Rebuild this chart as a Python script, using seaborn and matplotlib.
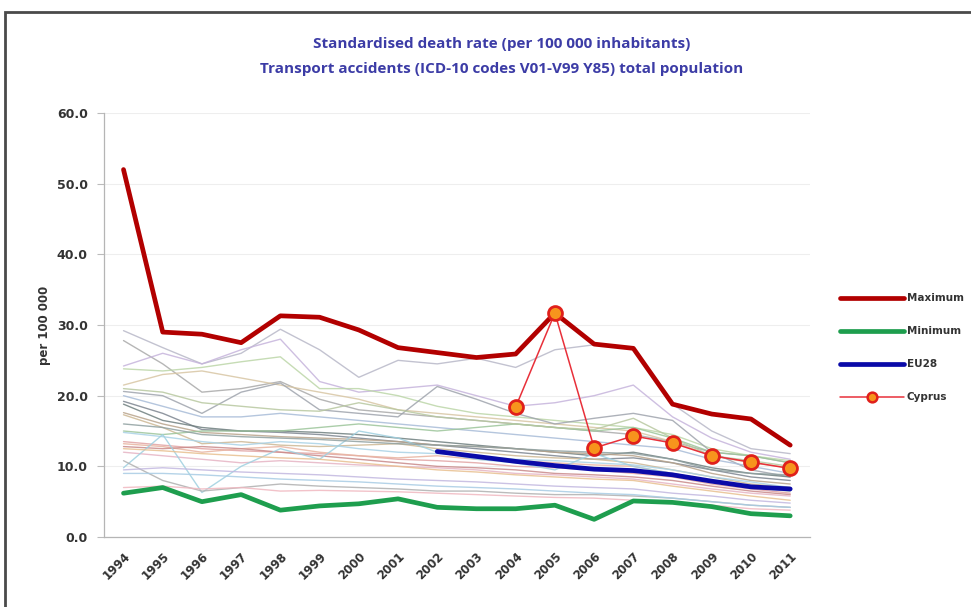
"""Standardised death rate from transport accidents, EU countries 1994-2011."""

import matplotlib
matplotlib.use("Agg")
import matplotlib.pyplot as plt
from matplotlib.lines import Line2D
from matplotlib.patches import Rectangle
import numpy as np
import pandas as pd
import seaborn as sns

years = [str(y) for y in range(1994, 2012)]

maximum = [52.0, 29.0, 28.7, 27.5, 31.3, 31.1, 29.3, 26.8, 26.1, 25.4,
           25.9, 31.7, 27.3, 26.7, 18.8, 17.4, 16.7, 13.0]
minimum = [6.2, 7.0, 5.0, 6.0, 3.8, 4.4, 4.7, 5.4, 4.2, 4.0,
           4.0, 4.5, 2.5, 5.1, 4.9, 4.3, 3.3, 3.0]
eu28 = [None] * 8 + [12.1, 11.4, 10.7, 10.1, 9.6, 9.4, 8.8, 7.9, 7.1, 6.8]
cyprus = [None] * 10 + [18.4, 31.7, 12.6, 14.3, 13.3, 11.5, 10.6, 9.7]

# thin background lines: the individual member states
other_rates = [
    [29.2, 26.8, 24.5, 26.0, 29.4, 26.5, 22.6, 25.0, 24.5, 25.3, 24.0, 26.5, 27.2, 26.8, 18.8, 15.0, 12.5, 11.8],
    [27.8, 24.5, 20.5, 21.0, 22.0, 19.5, 18.0, 17.5, 17.0, 16.5, 16.0, 15.5, 15.0, 14.5, 13.5, 12.0, 11.5, 10.5],
    [24.2, 26.0, 24.5, 26.5, 28.0, 22.0, 20.5, 21.0, 21.5, 20.0, 18.5, 19.0, 20.0, 21.5, 17.0, 14.0, 12.0, 11.0],
    [23.8, 23.5, 24.0, 24.8, 25.5, 21.0, 21.0, 20.0, 18.5, 17.5, 17.0, 16.5, 16.0, 15.5, 14.5, 12.5, 11.5, 10.8],
    [21.5, 23.0, 23.5, 22.5, 21.5, 20.5, 19.5, 18.0, 17.5, 17.0, 16.5, 16.0, 15.5, 15.0, 13.5, 11.5, 10.5, 9.8],
    [20.6, 20.0, 17.5, 20.5, 21.8, 18.0, 17.5, 17.0, 21.3, 19.5, 17.5, 16.0, 16.8, 17.5, 16.5, 12.0, 9.5, 8.5],
    [20.0, 18.5, 17.0, 17.0, 17.5, 17.0, 16.5, 16.0, 15.5, 15.0, 14.5, 14.0, 13.5, 13.0, 12.5, 11.0, 10.0, 9.0],
    [19.2, 17.5, 15.2, 15.0, 14.8, 14.5, 14.0, 13.5, 13.0, 12.5, 12.0, 11.5, 11.0, 11.2, 10.5, 9.5, 8.5, 8.0],
    [18.8, 16.5, 15.5, 15.0, 15.0, 14.8, 14.5, 14.0, 13.5, 13.0, 12.5, 12.0, 11.5, 12.0, 11.0, 9.8, 9.0, 8.5],
    [17.6, 16.0, 14.8, 14.5, 14.2, 14.0, 13.8, 13.5, 13.0, 12.8, 12.5, 12.0, 11.8, 11.5, 10.5, 9.0, 8.0, 7.5],
    [17.3, 15.5, 13.2, 13.5, 13.0, 12.8, 13.0, 13.2, 12.5, 12.0, 11.5, 11.2, 11.0, 10.5, 9.5, 8.5, 7.5, 7.0],
    [15.0, 14.5, 15.0, 15.0, 15.0, 15.5, 16.0, 15.5, 15.0, 15.5, 16.0, 15.5, 15.0, 15.5, 14.0, 12.0, 11.5, 10.5],
    [14.8, 14.2, 13.5, 13.0, 13.5, 13.2, 12.5, 12.0, 11.8, 11.5, 11.0, 10.8, 10.5, 10.2, 9.5, 8.5, 7.8, 7.0],
    [13.5, 13.0, 12.5, 12.2, 12.0, 11.8, 11.5, 11.0, 10.8, 10.5, 10.0, 9.8, 9.5, 9.0, 8.5, 7.5, 6.8, 6.2],
    [13.2, 12.8, 12.0, 12.5, 12.8, 12.0, 11.5, 11.2, 11.5, 11.0, 10.8, 10.5, 10.2, 10.0, 9.0, 8.0, 7.0, 6.5],
    [12.8, 12.5, 12.8, 12.5, 12.0, 11.5, 11.0, 10.5, 10.0, 9.8, 9.5, 9.0, 8.8, 8.5, 8.0, 7.2, 6.5, 6.0],
    [12.0, 11.5, 11.0, 10.5, 10.8, 10.5, 10.2, 10.0, 9.8, 9.5, 9.0, 8.8, 8.5, 8.2, 7.5, 6.8, 6.2, 5.8],
    [9.8, 14.5, 6.3, 10.0, 12.5, 11.0, 15.0, 14.0, 12.0, 11.0, 10.5, 9.5, 11.8, 10.0, 9.0, 8.0, 7.0, 6.5],
    [10.8, 8.0, 6.5, 7.0, 7.5, 7.2, 7.0, 6.8, 6.5, 6.5, 6.2, 6.0, 6.0, 5.8, 5.5, 5.0, 4.5, 4.2],
    [9.5, 9.8, 9.5, 9.2, 9.0, 8.8, 8.5, 8.2, 8.0, 7.8, 7.5, 7.2, 7.0, 6.8, 6.2, 5.8, 5.2, 4.8],
    [9.0, 9.0, 8.8, 8.5, 8.2, 8.0, 7.8, 7.5, 7.2, 7.0, 6.8, 6.5, 6.2, 6.0, 5.5, 5.0, 4.5, 4.2],
    [7.0, 7.2, 6.8, 7.0, 6.5, 6.6, 6.5, 6.4, 6.2, 6.0, 5.8, 5.6, 5.5, 5.2, 4.8, 4.5, 4.0, 3.8],
    [16.0, 15.5, 14.5, 14.2, 14.0, 13.8, 13.5, 13.2, 13.0, 12.8, 12.5, 12.2, 12.0, 11.8, 11.0, 9.5, 9.0, 8.8],
    [21.0, 20.5, 19.0, 18.5, 18.0, 17.8, 19.0, 18.0, 17.0, 16.5, 16.0, 15.5, 15.2, 16.8, 14.0, 11.5, 10.8, 10.0],
    [12.5, 12.2, 11.8, 11.5, 11.2, 11.0, 10.5, 10.0, 9.5, 9.2, 8.8, 8.5, 8.2, 8.0, 7.2, 6.5, 5.8, 5.2],
]

other_colors = ["#b8b8c8", "#a9a9a9", "#c6b4dc", "#bcd6a8", "#d8c6a4", "#9fa4ad",
                "#a8bcd8", "#7d8590", "#6f7f7f", "#b9a48c", "#cdb894", "#9cc59a",
                "#a9d2e6", "#e2a4a4", "#e8b4a0", "#c98a8a", "#e6b4c4", "#9fd0e0",
                "#b0b0b0", "#c2b8e0", "#a8cce4", "#f0b8c0", "#8fa0a0", "#b8c8a0",
                "#e8c090"]

sns.set_theme(style="white")
plt.rcParams["font.family"] = ["DejaVu Sans"]

fig = plt.figure(figsize=(9.71, 6.07), dpi=100)
ax = fig.add_axes([0.107, 0.1153, 0.727, 0.6985])

x = np.arange(len(years))
others = pd.DataFrame(
    [(i, xi, v) for i, row in enumerate(other_rates) for xi, v in zip(x, row)],
    columns=["country", "x", "rate"],
)
sns.lineplot(data=others, x="x", y="rate", hue="country", palette=other_colors,
             linewidth=1.0, alpha=0.85, legend=False, ax=ax)

sns.lineplot(x=x, y=maximum, color="#b20000", linewidth=3.4, ax=ax)
sns.lineplot(x=x, y=minimum, color="#1e9e4e", linewidth=3.4, ax=ax)
eu = pd.Series(eu28, dtype=float)
sns.lineplot(x=x[eu.notna()], y=eu.dropna(), color="#0a0aa8", linewidth=3.4, ax=ax)
cy = pd.Series(cyprus, dtype=float)
sns.lineplot(x=x[cy.notna()], y=cy.dropna(), color="#e8303a", linewidth=1.1,
             marker="o", markersize=10, markerfacecolor="#f7941d",
             markeredgecolor="#e0201b", markeredgewidth=2.0, ax=ax)

ax.set_xlim(-0.5, len(years) - 0.5)
ax.set_ylim(0, 60)
ax.set_yticks(np.arange(0, 61, 10))
ax.set_yticklabels([f"{v:.1f}" for v in np.arange(0, 61, 10)],
                   fontsize=9, fontweight="bold", color="#333333")
ax.set_xticks(x)
ax.set_xticklabels(years, rotation=45, ha="right", rotation_mode="anchor",
                   fontsize=8.5, fontweight="bold", color="#333333")
ax.set_xticks(np.arange(-0.5, len(years)), minor=True)
ax.tick_params(axis="x", which="major", length=0, pad=9)
ax.tick_params(axis="x", which="minor", length=4, color="#bbbbbb", width=0.8)
ax.tick_params(axis="y", length=5, color="#bbbbbb", width=0.8, pad=6.5, left=True)
ax.grid(axis="y", color="#eeeeee", linewidth=0.8)
for side in ["top", "right"]:
    ax.spines[side].set_visible(False)
for side in ["left", "bottom"]:
    ax.spines[side].set_color("#b5b5b5")
    ax.spines[side].set_linewidth(0.9)
ax.set_xlabel("")
ax.set_ylabel("per 100 000", fontsize=8.5, fontweight="bold", color="#333333", labelpad=4)

title_font = dict(ha="center", va="center", fontsize=11, fontweight="bold",
                  color="#3c3ca6", family=["Open Sans", "DejaVu Sans"])
fig.text(0.517, 0.927, "Standardised death rate (per 100 000 inhabitants)", **title_font)
fig.text(0.517, 0.887, "Transport accidents (ICD-10 codes V01-V99 Y85) total population",
         **title_font)

handles = [
    Line2D([], [], color="#b20000", linewidth=3.4),
    Line2D([], [], color="#1e9e4e", linewidth=3.4),
    Line2D([], [], color="#0a0aa8", linewidth=3.4),
    Line2D([], [], color="#e8303a", linewidth=1.1, marker="o", markersize=7,
           markerfacecolor="#f7941d", markeredgecolor="#e0201b", markeredgewidth=1.8),
]
fig.legend(handles, ["Maximum", "Minimum", "EU28", "Cyprus"], loc="upper left",
           bbox_to_anchor=(0.855, 0.532), frameon=False, handlelength=6.2,
           handletextpad=0.25, labelspacing=2.2, prop={"size": 7.5, "weight": "bold"},
           labelcolor="#333333")

fig.add_artist(Rectangle((5 / 971, -0.02), 1.0, 1 - 12 / 607 + 0.02,
                         transform=fig.transFigure, fill=False,
                         edgecolor="#4a4a4a", linewidth=2.0))

fig.savefig("out.png", dpi=100)
